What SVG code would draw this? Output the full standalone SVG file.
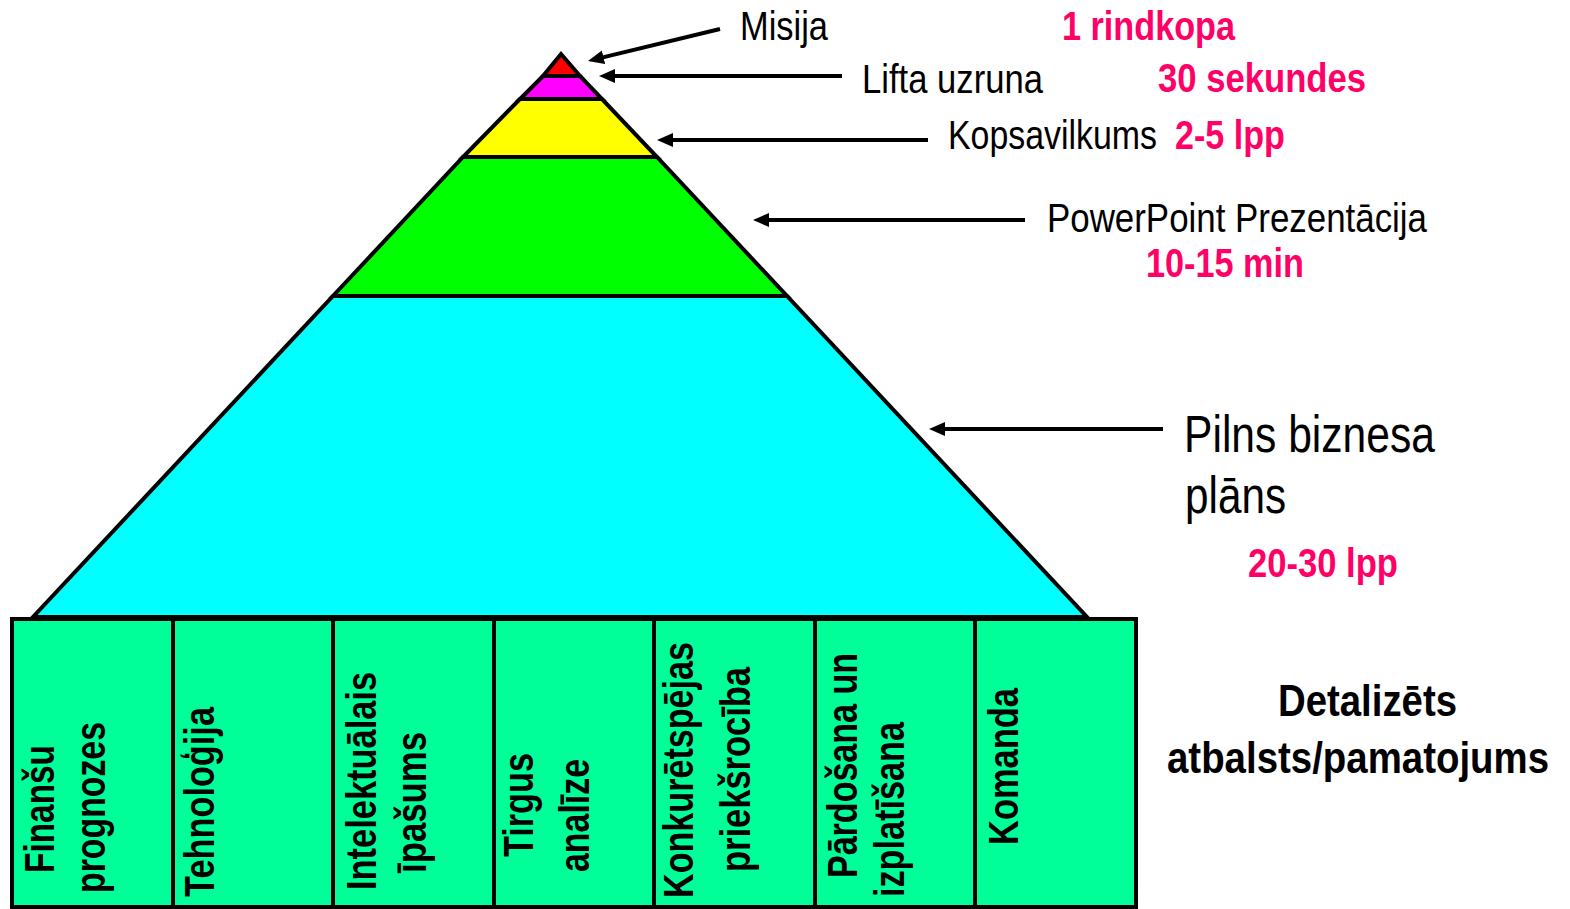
<svg xmlns="http://www.w3.org/2000/svg" width="1570" height="909" viewBox="0 0 1570 909">
  <style>
    .band { stroke: #000; stroke-width: 4; stroke-linejoin: miter; }
    .box { fill: #00FF99; stroke: #000; stroke-width: 4; }
    .lbl { font-family: "Liberation Sans", Arial, sans-serif; font-size: 41px; fill: #000; }
    .big { font-size: 52px; }
    .red { font-weight: bold; fill: #FF0066; }
    .bold { font-weight: bold; font-size: 45px; }
    .vert { font-family: "Liberation Sans", Arial, sans-serif; font-size: 42px; font-weight: bold; fill: #000; }
    .arrow { stroke: #000; stroke-width: 4; fill: none; marker-end: url(#head); }
  </style>
  <defs>
    <marker id="head" markerUnits="userSpaceOnUse" markerWidth="18" markerHeight="16" viewBox="0 -8 18 16" refX="6" refY="0" orient="auto">
      <path d="M0,-7 L16,0 L0,7 Z" fill="#000"/>
    </marker>
  </defs>

  <rect width="1570" height="909" fill="#fff"/>

  <!-- Pyramid levels, widest first -->
  <g id="level-plan">
    <polygon class="band" fill="#00FFFF" points="333,296 787,296 1087,617 33,617"/>
  </g>
  <g id="level-presentation">
    <polygon class="band" fill="#00FF00" points="463,157 657,157 787,296 333,296"/>
  </g>
  <g id="level-summary">
    <polygon class="band" fill="#FFFF00" points="520,99 602,99 657,157 463,157"/>
  </g>
  <g id="level-pitch">
    <polygon class="band" fill="#FF00FF" points="543,76 580,76 602,99 520,99"/>
  </g>
  <g id="level-mission">
    <polygon class="band" fill="#FF0000" points="561,54 580,76 543,76"/>
  </g>

  <!-- Supporting sections under the pyramid (condensed bold, reading upwards) -->
  <g id="box-finansu">
    <rect class="box" x="12" y="619" width="161" height="288"/>
    <text class="vert" transform="translate(54,873) rotate(-90) scale(0.82,1)" textLength="156.1" lengthAdjust="spacingAndGlyphs">Finanšu</text>
    <text class="vert" transform="translate(105,893) rotate(-90) scale(0.82,1)" textLength="208.5" lengthAdjust="spacingAndGlyphs">prognozes</text>
  </g>
  <g id="box-tehnologija">
    <rect class="box" x="173" y="619" width="160" height="288"/>
    <text class="vert" transform="translate(214,897) rotate(-90) scale(0.82,1)" textLength="231.7" lengthAdjust="spacingAndGlyphs">Tehnoloģija</text>
  </g>
  <g id="box-intelektualais">
    <rect class="box" x="333" y="619" width="161" height="288"/>
    <text class="vert" transform="translate(376,890) rotate(-90) scale(0.82,1)" textLength="265.9" lengthAdjust="spacingAndGlyphs">Intelektuālais</text>
    <text class="vert" transform="translate(426,873) rotate(-90) scale(0.82,1)" textLength="172" lengthAdjust="spacingAndGlyphs">īpašums</text>
  </g>
  <g id="box-tirgus">
    <rect class="box" x="494" y="619" width="160" height="288"/>
    <text class="vert" transform="translate(533,857) rotate(-90) scale(0.82,1)" textLength="126.8" lengthAdjust="spacingAndGlyphs">Tirgus</text>
    <text class="vert" transform="translate(589,872) rotate(-90) scale(0.82,1)" textLength="137.8" lengthAdjust="spacingAndGlyphs">analīze</text>
  </g>
  <g id="box-konkuretspejas">
    <rect class="box" x="654" y="619" width="161" height="288"/>
    <text class="vert" transform="translate(693,898) rotate(-90) scale(0.82,1)" textLength="312.2" lengthAdjust="spacingAndGlyphs">Konkurētspējas</text>
    <text class="vert" transform="translate(750,872) rotate(-90) scale(0.82,1)" textLength="250" lengthAdjust="spacingAndGlyphs">priekšrocība</text>
  </g>
  <g id="box-pardosana">
    <rect class="box" x="815" y="619" width="160" height="288"/>
    <text class="vert" transform="translate(857,878) rotate(-90) scale(0.82,1)" textLength="274.4" lengthAdjust="spacingAndGlyphs">Pārdošana un</text>
    <text class="vert" transform="translate(904,897) rotate(-90) scale(0.82,1)" textLength="213.4" lengthAdjust="spacingAndGlyphs">izplatīšana</text>
  </g>
  <g id="box-komanda">
    <rect class="box" x="975" y="619" width="161" height="288"/>
    <text class="vert" transform="translate(1018,845) rotate(-90) scale(0.82,1)" textLength="191.5" lengthAdjust="spacingAndGlyphs">Komanda</text>
  </g>

  <!-- Pointer arrows from the captions to the levels -->
  <g id="connectors">
    <line class="arrow" x1="720" y1="29" x2="597.7" y2="58.6"/>
    <line class="arrow" x1="842" y1="76" x2="609" y2="76"/>
    <line class="arrow" x1="928" y1="140" x2="667" y2="140"/>
    <line class="arrow" x1="1025" y1="220" x2="763" y2="220"/>
    <line class="arrow" x1="1163" y1="429" x2="939" y2="429"/>
  </g>

  <!-- Captions (condensed) -->
  <g id="caption-mission">
    <text class="lbl" transform="translate(740,40) scale(0.82,1)" textLength="107.3" lengthAdjust="spacingAndGlyphs">Misija</text>
    <text class="lbl red" transform="translate(1062,40) scale(0.82,1)" textLength="211" lengthAdjust="spacingAndGlyphs">1 rindkopa</text>
  </g>
  <g id="caption-pitch">
    <text class="lbl" transform="translate(862,93) scale(0.82,1)" textLength="220.7" lengthAdjust="spacingAndGlyphs">Lifta uzruna</text>
    <text class="lbl red" transform="translate(1158,92) scale(0.82,1)" textLength="253.7" lengthAdjust="spacingAndGlyphs">30 sekundes</text>
  </g>
  <g id="caption-summary">
    <text class="lbl" transform="translate(948,149) scale(0.82,1)" textLength="254.9" lengthAdjust="spacingAndGlyphs">Kopsavilkums</text>
    <text class="lbl red" transform="translate(1175,149) scale(0.82,1)" textLength="134.1" lengthAdjust="spacingAndGlyphs">2-5 lpp</text>
  </g>
  <g id="caption-presentation">
    <text class="lbl" transform="translate(1047,232) scale(0.82,1)" textLength="463.4" lengthAdjust="spacingAndGlyphs">PowerPoint Prezentācija</text>
    <text class="lbl red" transform="translate(1146,277) scale(0.82,1)" textLength="192.7" lengthAdjust="spacingAndGlyphs">10-15 min</text>
  </g>
  <g id="caption-plan">
    <text class="lbl big" transform="translate(1184,452) scale(0.82,1)" textLength="306.1" lengthAdjust="spacingAndGlyphs">Pilns biznesa</text>
    <text class="lbl big" transform="translate(1185,513) scale(0.82,1)" textLength="123.2" lengthAdjust="spacingAndGlyphs">plāns</text>
    <text class="lbl red" transform="translate(1248,577) scale(0.82,1)" textLength="182.9" lengthAdjust="spacingAndGlyphs">20-30 lpp</text>
  </g>
  <g id="caption-support">
    <text class="lbl bold" transform="translate(1278,716) scale(0.82,1)" textLength="218.3" lengthAdjust="spacingAndGlyphs">Detalizēts</text>
    <text class="lbl bold" transform="translate(1167,773) scale(0.82,1)" textLength="465.9" lengthAdjust="spacingAndGlyphs">atbalsts/pamatojums</text>
  </g>
</svg>
